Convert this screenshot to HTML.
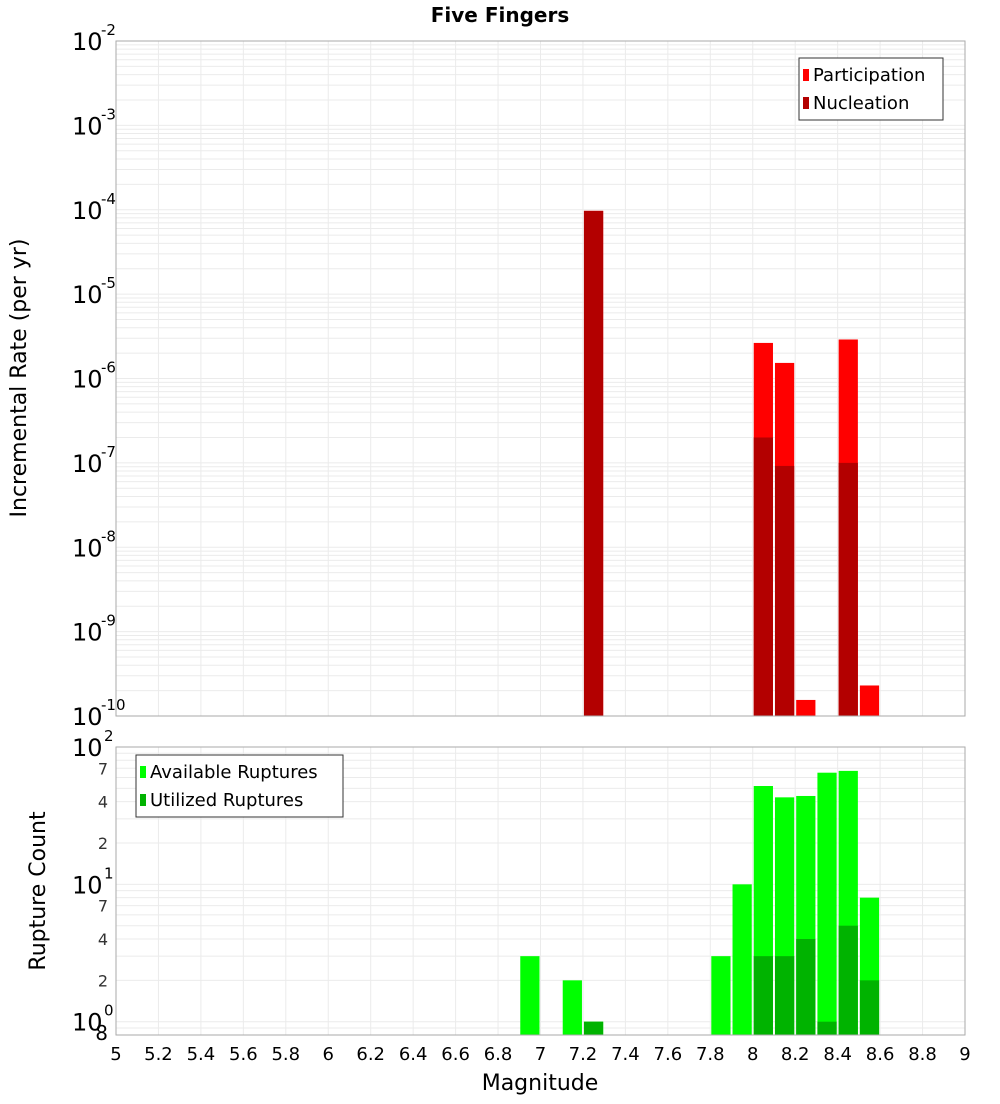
<!DOCTYPE html>
<html><head><meta charset="utf-8"><style>
body{margin:0;background:#fff;font-family:"DejaVu Sans","Liberation Sans",sans-serif}
</style></head><body>
<svg id="c" width="1000" height="1100" xmlns="http://www.w3.org/2000/svg" font-family="DejaVu Sans, Liberation Sans, sans-serif"></svg>
<script>
const magBins=[7.25,8.05,8.15,8.25,8.45,8.55];
const participation=[9.7e-5,2.64e-6,1.53e-6,1.55e-10,2.9e-6,2.3e-10];
const nucleation=[9.7e-5,2.0e-7,9.2e-8,0,1.0e-7,0];
const countBins=[6.95,7.15,7.25,7.85,7.95,8.05,8.15,8.25,8.35,8.45,8.55];
const available=[3,2,1,3,10,52,43,44,65,67,8];
const utilized=[0,0,1,0,0,3,3,4,1,5,2];
const xTicks=[5,5.2,5.4,5.6,5.8,6,6.2,6.4,6.6,6.8,7,7.2,7.4,7.6,7.8,8,8.2,8.4,8.6,8.8,9];
const topExps=[-2,-3,-4,-5,-6,-7,-8,-9,-10];
const botMinor=[2,4,7];

const NS="http://www.w3.org/2000/svg";
const svg=document.getElementById('c');
function el(t,a,p){const e=document.createElementNS(NS,t);for(const k in a)e.setAttribute(k,a[k]);(p||svg).appendChild(e);return e;}
const L=116,R=965,T1=41,B1=716,T2=747,B2=1035;
const X=m=>L+(m-5)/4*(R-L);
const Y1=v=>T1+(-2-Math.log10(v))/8*(B1-T1);
const Y2=v=>T2+(2-Math.log10(v))/(2-Math.log10(0.8))*(B2-T2);

// title
let t=el('text',{x:500,y:22,'text-anchor':'middle','font-size':20,'font-weight':'bold'});t.textContent='Five Fingers';


// grids
const g1=el('g',{});
for(let e=-10;e<-2;e++)for(let k=1;k<10;k++){const y=Y1(k*Math.pow(10,e));el('line',{x1:L,x2:R,y1:y,y2:y,stroke:'#ebebeb','stroke-width':1},g1);}
const g2=el('g',{});
for(let e=-1;e<2;e++)for(let k=1;k<10;k++){const v=k*Math.pow(10,e);if(v<0.8)continue;const y=Y2(v);el('line',{x1:L,x2:R,y1:y,y2:y,stroke:'#ebebeb','stroke-width':1},g2);}
xTicks.forEach(m=>{const x=X(m);el('line',{x1:x,x2:x,y1:T1,y2:B1,stroke:'#ebebeb'},g1);el('line',{x1:x,x2:x,y1:T2,y2:B2,stroke:'#ebebeb'},g2);});

// top bars
const bw=(R-L)*0.1/4;
magBins.forEach((m,i)=>{
 const x=X(m)-bw/2+1,w=bw-2;
 let y=Y1(participation[i]);
 let r=el('rect',{x:x,y:y,width:w,height:B1-y,fill:'#ff0000'});
 
 if(nucleation[i]>0){y=Y1(nucleation[i]);r=el('rect',{x:x,y:y,width:w,height:B1-y,fill:'#b30000'});
 }
});
// bottom bars
countBins.forEach((m,i)=>{
 const x=X(m)-bw/2+1,w=bw-2;
 let y=Y2(available[i]);
 let r=el('rect',{x:x,y:y,width:w,height:B2-y,fill:'#00ff00'});
 
 if(utilized[i]>0){y=Y2(utilized[i]);r=el('rect',{x:x,y:y,width:w,height:B2-y,fill:'#00b300'});
 }
});

// frames
let f=el('rect',{x:L,y:T1,width:R-L,height:B1-T1,fill:'none',stroke:'#aaa'});
f=el('rect',{x:L,y:T2,width:R-L,height:B2-T2,fill:'none',stroke:'#aaa'});

// top y ticks
topExps.forEach(e=>{const y=Y1(Math.pow(10,e));
 const tx=el('text',{x:72,y:y+9,'font-size':24});tx.textContent='10';
 
 const s=el('text',{x:101,y:y-6,'font-size':15});s.textContent=String(e);
 
});
// bottom y ticks
[[100,'2'],[10,'1'],[1,'0']].forEach(([v,e])=>{const y=Y2(v);
 const tx=el('text',{x:72,y:y+9,'font-size':24});tx.textContent='10';
 
 const s=el('text',{x:104,y:y-6,'font-size':15});s.textContent=e;
 
});
[1,10].forEach(d=>botMinor.forEach(k=>{const y=Y2(k*d);
 const s=el('text',{x:108,y:y+6,'font-size':16,'text-anchor':'end',fill:'#333'});s.textContent=String(k);
 }));
t=el('text',{x:108,y:1040,'font-size':20,'text-anchor':'end'});t.textContent='8';


// x ticks
xTicks.forEach(m=>{const tx=el('text',{x:X(m),y:1060,'font-size':18,'text-anchor':'middle'});tx.textContent=String(m);
 });
t=el('text',{x:540,y:1090,'font-size':22,'text-anchor':'middle'});t.textContent='Magnitude';

t=el('text',{x:0,y:0,'font-size':22,'text-anchor':'middle',transform:'translate(26,378) rotate(-90)'});t.textContent='Incremental Rate (per yr)';

t=el('text',{x:0,y:0,'font-size':22,'text-anchor':'middle',transform:'translate(45,891) rotate(-90)'});t.textContent='Rupture Count';


// legends
function legend(x,y,w,items,name){const g=el('g',{});
 el('rect',{x:x,y:y,width:w,height:items.length*28+6,fill:'#fff',stroke:'#333'},g);
 items.forEach(([c,lab],i)=>{el('rect',{x:x+4,y:y+11+i*28,width:6,height:12,fill:c},g);
 const tx=el('text',{x:x+14,y:y+23+i*28,'font-size':18},g);tx.textContent=lab;
 });}
legend(799,58,144,[['#ff0000','Participation'],['#b30000','Nucleation']],'top-legend');
legend(136,755,207,[['#00ff00','Available Ruptures'],['#00b300','Utilized Ruptures']],'bottom-legend');
</script>
</body></html>
